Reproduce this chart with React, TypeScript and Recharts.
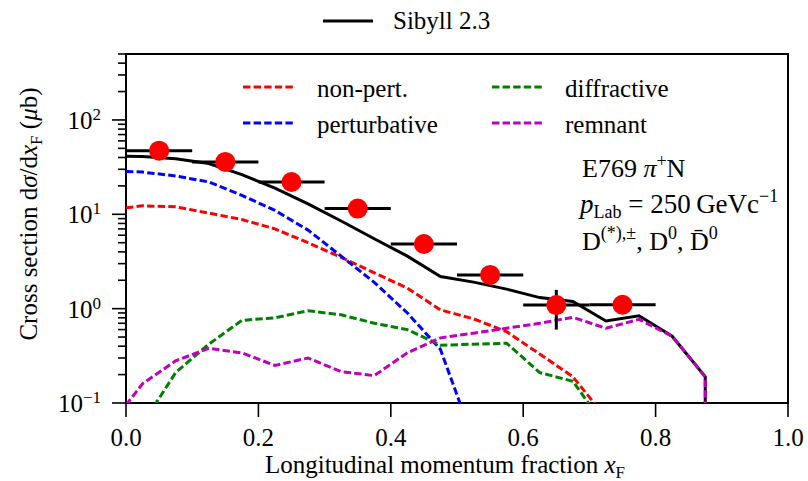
import React from 'react';
import { ComposedChart, Line, Scatter, XAxis, YAxis, ErrorBar, ReferenceArea } from 'recharts';

// x_F bin centres of the model curves (first entry pins the curve to the axis)
const gridX = [0, 0.025, 0.075, 0.125, 0.175, 0.225, 0.275, 0.325, 0.375, 0.425, 0.475, 0.525, 0.575, 0.625, 0.675, 0.725, 0.775, 0.825, 0.875];

// dσ/dx_F in μb on gridX, null where a component is not produced
const sibyll = [41.2, 41, 38.8, 34.5, 26.3, 18.9, 12.9, 8.5, 5.5, 3.6, 2.19, 1.91, 1.61, 1.31, 1.19, 0.74, 0.84, 0.51, 0.19];
const nonPert = [11.7, 12.3, 12.0, 10.3, 8.8, 7.0, 5.0, 3.5, 2.4, 1.65, 0.97, 0.78, 0.57, 0.33, 0.19, 0.07, null, null, null];
const pert = [28.5, 28, 25.5, 22, 15.9, 11, 6.8, 3.6, 1.9, 0.9, 0.37, 0.04, null, null, null, null, null, null, null];
const diffractive = [null, 0.06, 0.21, 0.42, 0.75, 0.8, 0.95, 0.86, 0.7, 0.6, 0.41, 0.42, 0.43, 0.21, 0.17, 0.055, null, null, null];
const remnant = [0.095, 0.16, 0.28, 0.38, 0.34, 0.25, 0.3, 0.215, 0.195, 0.34, 0.49, 0.55, 0.62, 0.7, 0.81, 0.62, 0.77, 0.51, 0.19];

// kinematic limit where the full model and remnant drop out
const cutX = 0.875;
const belowAxis = 0.01;

// E769 pi+ N measurement
const e769X = [0.05, 0.15, 0.25, 0.35, 0.45, 0.55, 0.65, 0.75];
const e769Y = [47.3, 35.9, 22.0, 11.5, 4.84, 2.28, 1.09, 1.1];
const e769YErr = [3, 2.5, 1.5, 0.8, 0.4, 0.25, 0.49, 0.2];
const e769XErr = [0.05, 0.05, 0.05, 0.05, 0.05, 0.05, 0.05, 0.05];

const xTicks = [0, 0.2, 0.4, 0.6, 0.8, 1.0];
const yDecades = [-1, 0, 1, 2];
const yMax = 500;

const yTicks: number[] = [];
yDecades.forEach((k) => {
  for (let m = 1; m <= 9; m++) {
    const v = m * Math.pow(10, k);
    if (v <= yMax) yTicks.push(Number(v.toPrecision(3)));
  }
});

const toPoints = (vals: (number | null)[], cut = false) => {
  const pts = gridX
    .map((x, i) => ({ x, y: vals[i] }))
    .filter((p) => p.y !== null) as { x: number; y: number }[];
  if (cut) pts.push({ x: cutX, y: belowAxis });
  return pts;
};

const sibyllPts = toPoints(sibyll, true);
const nonPertPts = toPoints(nonPert);
const pertPts = toPoints(pert);
const diffPts = toPoints(diffractive);
const remnantPts = toPoints(remnant, true);

const e769Pts = e769X.map((x, i) => ({ x, y: e769Y[i], xErr: e769XErr[i], yErr: e769YErr[i] }));

const FONT = '"Liberation Serif", "DejaVu Serif", serif';
const DASH = '7.4 3.2';
const RED = '#ff0000';
const BLUE = '#0000ff';
const GREEN = '#008000';
const MAGENTA = '#bf00bf';

const YTick = (props: any) => {
  const { x, y, payload } = props;
  const v = payload.value;
  const exp = Math.round(Math.log10(v));
  const major = Math.abs(v - Math.pow(10, exp)) < 1e-6 * v;
  return (
    <g>
      <line x1={x - (major ? 14 : 8)} x2={x} y1={y} y2={y} stroke="#000" strokeWidth={1.6} />
      {major && (
        <text x={x - 25} y={y + 9} textAnchor="end" style={{ fontFamily: FONT }} fontSize={25} fill="#000">
          10
          <tspan dy={-9} fontSize={17}>{exp < 0 ? `\u2212${-exp}` : exp}</tspan>
        </text>
      )}
    </g>
  );
};

const XTick = (props: any) => {
  const { x, y, payload } = props;
  return (
    <g>
      <line x1={x} x2={x} y1={y} y2={y + 14} stroke="#000" strokeWidth={1.6} />
      <text x={x} y={y + 43} textAnchor="middle" style={{ fontFamily: FONT }} fontSize={25} fill="#000">
        {payload.value.toFixed(1)}
      </text>
    </g>
  );
};

const Dot = (props: any) => <circle cx={props.cx} cy={props.cy} r={10} fill={RED} />;

const LegendLine = ({ x, y, color, dashed }: { x: number; y: number; color: string; dashed?: boolean }) => (
  <line x1={x} x2={x + 50} y1={y} y2={y} stroke={color} strokeWidth={3} strokeDasharray={dashed ? DASH : undefined} />
);

export default function App() {
  return (
    <div style={{ position: 'absolute', left: 0, top: 0, width: 808, height: 481, background: '#fff', fontFamily: FONT }}>
      <ComposedChart width={808} height={481} margin={{ top: 54, right: 20, bottom: 0, left: 0 }}>
        <XAxis
          type="number"
          dataKey="x"
          domain={[0, 1]}
          ticks={xTicks}
          interval={0}
          allowDataOverflow
          axisLine={false}
          tickLine={false}
          tickSize={0}
          tickMargin={0}
          height={78}
          tick={<XTick />}
        />
        <YAxis
          type="number"
          dataKey="y"
          scale="log"
          domain={[0.1, yMax]}
          ticks={yTicks}
          interval={0}
          allowDataOverflow
          axisLine={false}
          tickLine={false}
          tickSize={0}
          tickMargin={0}
          width={126}
          tick={<YTick />}
        />
        <Line data={sibyllPts} dataKey="y" type="linear" stroke="#000" strokeWidth={3} dot={false} isAnimationActive={false} name="Sibyll 2.3" />
        <Line data={nonPertPts} dataKey="y" type="linear" stroke={RED} strokeWidth={3} strokeDasharray={DASH} dot={false} isAnimationActive={false} name="non-pert." />
        <Line data={pertPts} dataKey="y" type="linear" stroke={BLUE} strokeWidth={3} strokeDasharray={DASH} dot={false} isAnimationActive={false} name="perturbative" />
        <Line data={diffPts} dataKey="y" type="linear" stroke={GREEN} strokeWidth={3} strokeDasharray={DASH} dot={false} isAnimationActive={false} name="diffractive" />
        <Line data={remnantPts} dataKey="y" type="linear" stroke={MAGENTA} strokeWidth={3} strokeDasharray={DASH} dot={false} isAnimationActive={false} name="remnant" />
        <Scatter data={e769Pts} dataKey="y" shape={<Dot />} isAnimationActive={false} name="E769">
          <ErrorBar dataKey="xErr" direction="x" width={0} stroke="#000" strokeWidth={3} isAnimationActive={false} />
          <ErrorBar dataKey="yErr" direction="y" width={0} stroke="#000" strokeWidth={3} isAnimationActive={false} />
        </Scatter>
        <ReferenceArea x1={0} x2={1} y1={0.1} y2={yMax} fill="none" stroke="#000" strokeWidth={2} fillOpacity={0} />
      </ComposedChart>

      <svg width={808} height={481} style={{ position: 'absolute', left: 0, top: 0, pointerEvents: 'none', fontFamily: FONT }} fill="#000">
        {/* top legend */}
        <LegendLine x={323} y={21} color="#000" />
        <text x={393} y={29} fontSize={25}>Sibyll 2.3</text>

        {/* component legend */}
        <LegendLine x={243} y={87} color={RED} dashed />
        <text x={317} y={97} fontSize={25}>non-pert.</text>
        <LegendLine x={243} y={123} color={BLUE} dashed />
        <text x={317} y={133} fontSize={25}>perturbative</text>
        <LegendLine x={492} y={87} color={GREEN} dashed />
        <text x={565} y={97} fontSize={25}>diffractive</text>
        <LegendLine x={492} y={123} color={MAGENTA} dashed />
        <text x={565} y={133} fontSize={25}>remnant</text>

        {/* experiment annotation */}
        <text x={582} y={177} fontSize={26}>
          E769 <tspan fontStyle="italic">π</tspan>
          <tspan dy={-10} fontSize={18}>+</tspan>
          <tspan dy={10}>N</tspan>
        </text>
        <text x={580} y={213} fontSize={27}>
          <tspan fontStyle="italic">p</tspan>
          <tspan dy={5} fontSize={18}>Lab</tspan>
          <tspan dy={-5}> = 250{'\u2009'}GeVc</tspan>
          <tspan dy={-11} fontSize={18}>{'\u2212'}1</tspan>
        </text>
        <text x={582} y={250} fontSize={26}>
          D<tspan dy={-11} fontSize={18}>(*),±</tspan>
          <tspan dy={11}>, D</tspan>
          <tspan dy={-11} fontSize={18}>0</tspan>
          <tspan dy={11}>, D{'\u0304'}</tspan>
          <tspan dy={-11} fontSize={18}>0</tspan>
        </text>

        {/* axis titles */}
        <text x={445} y={473} fontSize={25} textAnchor="middle">
          Longitudinal momentum fraction <tspan fontStyle="italic">x</tspan>
          <tspan dy={5} fontSize={17}>F</tspan>
        </text>
        <text transform="translate(37,214) rotate(-90)" fontSize={25} textAnchor="middle">
          Cross section d<tspan fontStyle="italic">σ</tspan>/d<tspan fontStyle="italic">x</tspan>
          <tspan dy={5} fontSize={17}>F</tspan>
          <tspan dy={-5}> (</tspan>
          <tspan fontStyle="italic">μ</tspan>b)
        </text>
      </svg>
    </div>
  );
}
